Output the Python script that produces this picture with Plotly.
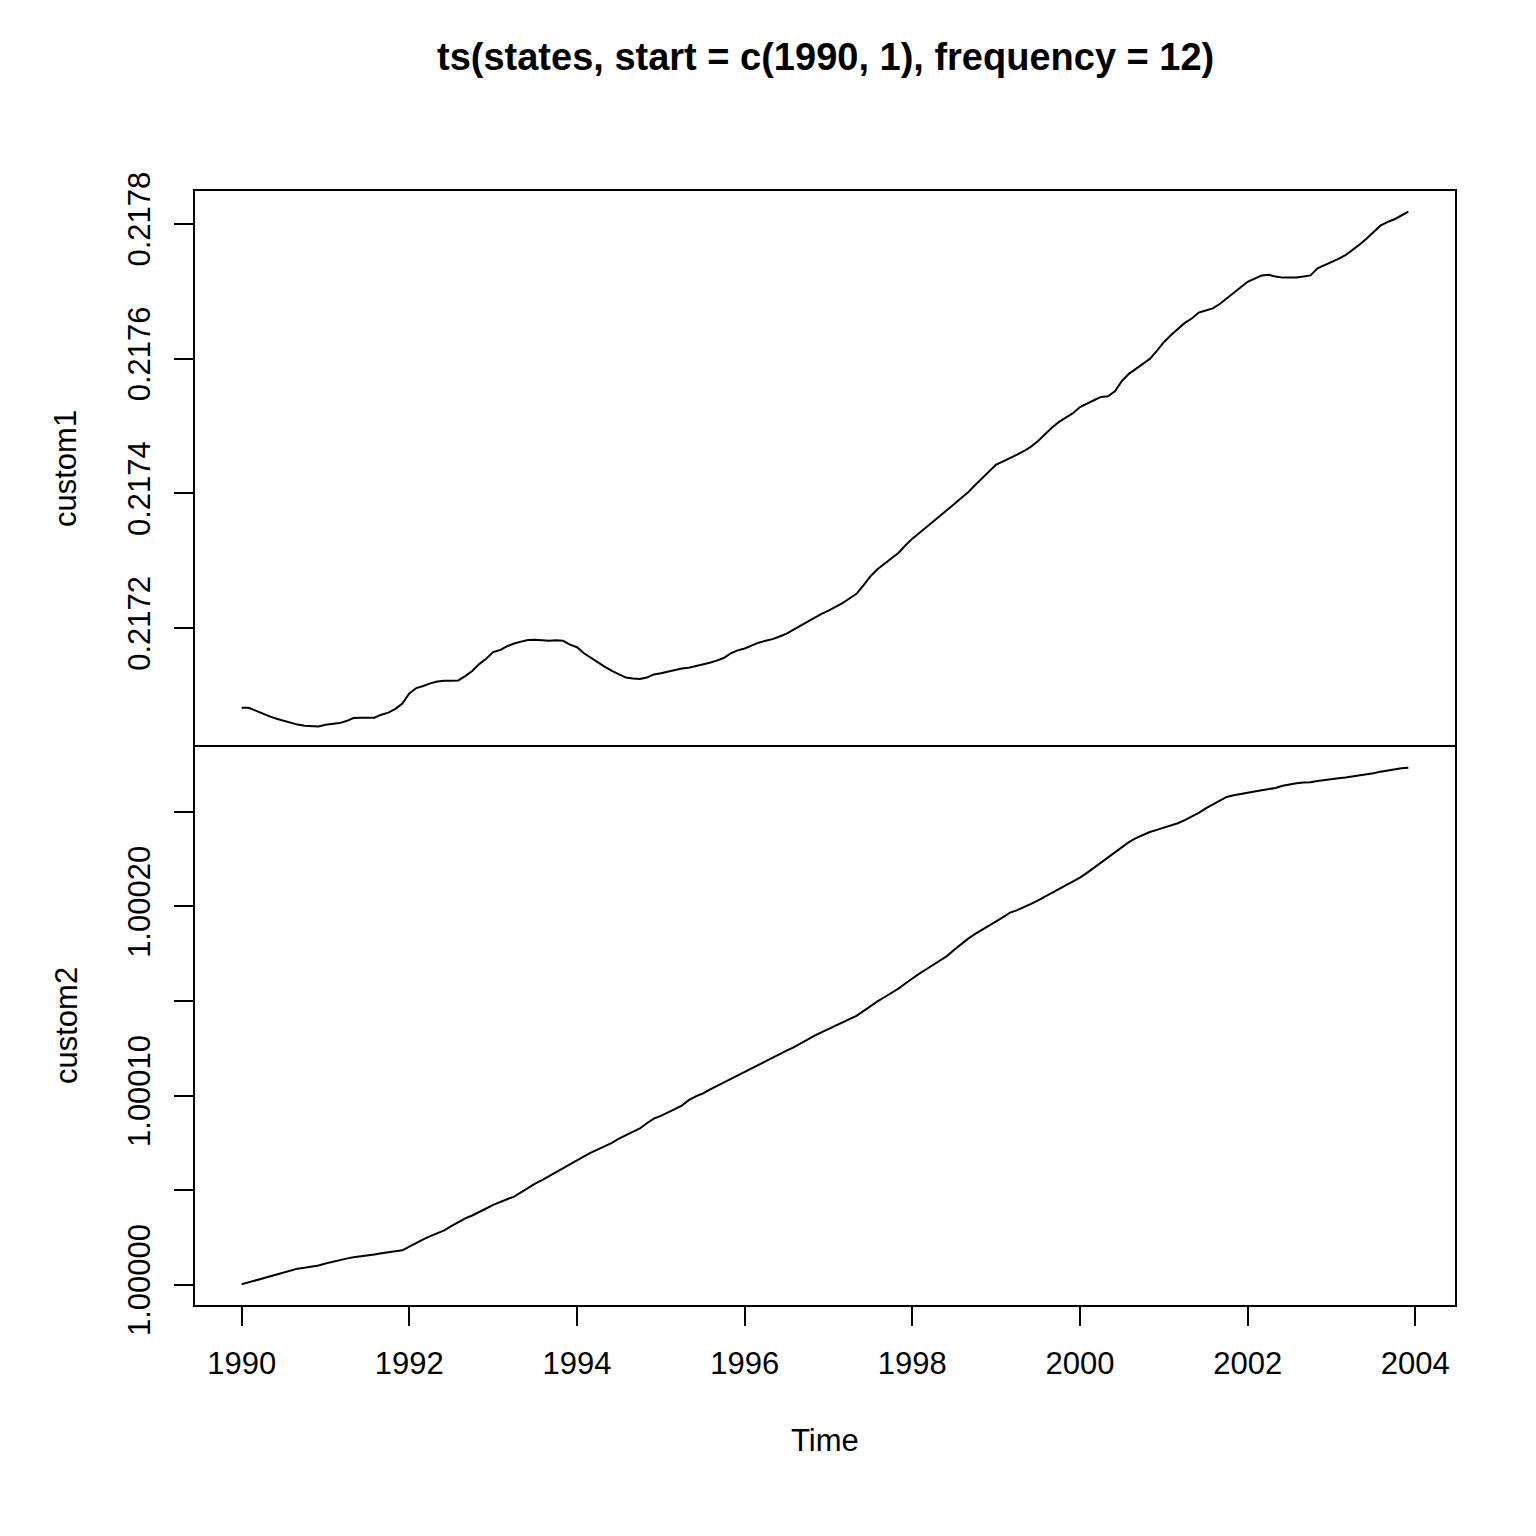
import numpy as np
import plotly.graph_objects as go

# ---- data (monthly, start 1990-01, frequency 12) ----
start_year = 1990
frequency = 12

custom1 = [
    0.2170817, 0.2170817, 0.2170775, 0.2170726, 0.2170689, 0.2170653, 0.2170622, 0.2170595, 0.2170567, 0.2170549, 0.2170540, 0.2170540,
    0.2170563, 0.2170578, 0.2170589, 0.2170619, 0.2170664, 0.2170668, 0.2170668, 0.2170668, 0.2170714, 0.2170744, 0.2170800, 0.2170879,
    0.2171030, 0.2171109, 0.2171139, 0.2171179, 0.2171206, 0.2171218, 0.2171218, 0.2171222, 0.2171287, 0.2171362, 0.2171465, 0.2171544,
    0.2171644, 0.2171673, 0.2171730, 0.2171771, 0.2171798, 0.2171822, 0.2171828, 0.2171816, 0.2171811, 0.2171820, 0.2171810, 0.2171754,
    0.2171715, 0.2171626, 0.2171556, 0.2171488, 0.2171425, 0.2171365, 0.2171313, 0.2171265, 0.2171250, 0.2171243, 0.2171265, 0.2171311,
    0.2171329, 0.2171354, 0.2171385, 0.2171399, 0.2171412, 0.2171433, 0.2171458, 0.2171486, 0.2171516, 0.2171555, 0.2171623, 0.2171669,
    0.2171697, 0.2171743, 0.2171783, 0.2171811, 0.2171835, 0.2171875, 0.2171917, 0.2171976, 0.2172034, 0.2172099, 0.2172160, 0.2172209,
    0.2172258, 0.2172312, 0.2172371, 0.2172438, 0.2172508, 0.2172633, 0.2172768, 0.2172872, 0.2172950, 0.2173025, 0.2173114, 0.2173225,
    0.2173327, 0.2173411, 0.2173495, 0.2173583, 0.2173669, 0.2173758, 0.2173840, 0.2173930, 0.2174015, 0.2174122, 0.2174218, 0.2174319,
    0.2174425, 0.2174475, 0.2174520, 0.2174575, 0.2174628, 0.2174693, 0.2174777, 0.2174881, 0.2174976, 0.2175059, 0.2175124, 0.2175189,
    0.2175280, 0.2175335, 0.2175381, 0.2175430, 0.2175440, 0.2175513, 0.2175667, 0.2175773, 0.2175846, 0.2175918, 0.2175994, 0.2176113,
    0.2176242, 0.2176346, 0.2176438, 0.2176529, 0.2176594, 0.2176682, 0.2176714, 0.2176745, 0.2176809, 0.2176894, 0.2176983, 0.2177063,
    0.2177139, 0.2177186, 0.2177232, 0.2177244, 0.2177216, 0.2177201, 0.2177201, 0.2177204, 0.2177219, 0.2177234, 0.2177338, 0.2177384,
    0.2177425, 0.2177479, 0.2177534, 0.2177610, 0.2177690, 0.2177779, 0.2177875, 0.2177972, 0.2178025, 0.2178067, 0.2178123, 0.2178181,
]

custom2 = [
    1.0000002, 1.0000012, 1.0000022, 1.0000033, 1.0000044, 1.0000054, 1.0000065, 1.0000076, 1.0000085, 1.0000090, 1.0000096, 1.0000102,
    1.0000112, 1.0000122, 1.0000130, 1.0000138, 1.0000145, 1.0000149, 1.0000154, 1.0000160, 1.0000166, 1.0000171, 1.0000177, 1.0000182,
    1.0000202, 1.0000222, 1.0000240, 1.0000257, 1.0000273, 1.0000287, 1.0000310, 1.0000330, 1.0000351, 1.0000366, 1.0000383, 1.0000403,
    1.0000422, 1.0000439, 1.0000452, 1.0000466, 1.0000489, 1.0000511, 1.0000534, 1.0000553, 1.0000574, 1.0000596, 1.0000619, 1.0000639,
    1.0000661, 1.0000679, 1.0000698, 1.0000715, 1.0000734, 1.0000750, 1.0000773, 1.0000790, 1.0000810, 1.0000826, 1.0000854, 1.0000878,
    1.0000893, 1.0000909, 1.0000928, 1.0000947, 1.0000976, 1.0000996, 1.0001011, 1.0001032, 1.0001051, 1.0001069, 1.0001089, 1.0001107,
    1.0001127, 1.0001146, 1.0001166, 1.0001184, 1.0001202, 1.0001220, 1.0001238, 1.0001255, 1.0001274, 1.0001296, 1.0001317, 1.0001334,
    1.0001352, 1.0001368, 1.0001384, 1.0001402, 1.0001422, 1.0001447, 1.0001474, 1.0001498, 1.0001520, 1.0001542, 1.0001566, 1.0001593,
    1.0001621, 1.0001645, 1.0001668, 1.0001692, 1.0001715, 1.0001739, 1.0001771, 1.0001803, 1.0001830, 1.0001855, 1.0001876, 1.0001897,
    1.0001921, 1.0001944, 1.0001968, 1.0001981, 1.0001996, 1.0002014, 1.0002032, 1.0002052, 1.0002071, 1.0002090, 1.0002111, 1.0002132,
    1.0002153, 1.0002178, 1.0002205, 1.0002232, 1.0002259, 1.0002287, 1.0002314, 1.0002340, 1.0002362, 1.0002379, 1.0002394, 1.0002405,
    1.0002416, 1.0002429, 1.0002440, 1.0002457, 1.0002476, 1.0002495, 1.0002519, 1.0002539, 1.0002559, 1.0002579, 1.0002588, 1.0002593,
    1.0002601, 1.0002608, 1.0002613, 1.0002619, 1.0002627, 1.0002638, 1.0002646, 1.0002652, 1.0002656, 1.0002657, 1.0002663, 1.0002669,
    1.0002672, 1.0002678, 1.0002682, 1.0002687, 1.0002692, 1.0002697, 1.0002704, 1.0002713, 1.0002720, 1.0002728, 1.0002731, 1.0002734,
]

x_tick_vals = [1990, 1992, 1994, 1996, 1998, 2000, 2002, 2004]
y1_tick_vals = [0.2172, 0.2174, 0.2176, 0.2178]
y1_tick_text = ["0.2172", "0.2174", "0.2176", "0.2178"]
y2_tick_vals = [1.00000, 1.00005, 1.00010, 1.00015, 1.00020, 1.00025]
y2_tick_text = ["1.00000", "", "1.00010", "", "1.00020", ""]

title_text = "ts(states, start = c(1990, 1), frequency = 12)"

# ---- build ----
time = start_year + np.arange(len(custom1)) / frequency


def padded(lo, hi, frac=0.04):
    d = (hi - lo) * frac
    return [lo - d, hi + d]


xr = padded(float(time.min()), float(time.max()))
y1r = padded(min(custom1), max(custom1))
y2r = padded(min(custom2), max(custom2))

FONT = "Arial, Liberation Sans, sans-serif"
W, H = 1536, 1536
OFF = 8  # page body margin offset
PL, PR, PT, PB = 195, 1455, 191, 1305  # target plot box in page pixels
L, T = PL - OFF, PT - OFF
R, B = W - (PR - OFF), H - (PB - OFF)
split = (PB - 747) / (PB - PT)

fig = go.Figure()
fig.add_trace(go.Scatter(x=time, y=custom1, mode="lines", xaxis="x2", yaxis="y2",
                         line=dict(color="black", width=2), showlegend=False))
fig.add_trace(go.Scatter(x=time, y=custom2, mode="lines", xaxis="x", yaxis="y",
                         line=dict(color="black", width=2), showlegend=False))

axis_common = dict(showgrid=False, zeroline=False, showline=True, linecolor="black",
                   linewidth=2, tickcolor="black", tickwidth=2, ticklen=19,
                   tickfont=dict(family=FONT, size=31, color="black"))

fig.update_layout(
    width=W, height=H,
    margin=dict(l=L, r=R, t=T, b=B, pad=0),
    paper_bgcolor="white", plot_bgcolor="white",
    xaxis=dict(domain=[0, 1], range=xr, anchor="y", ticks="outside", mirror=True,
               tickmode="array", tickvals=x_tick_vals, ticklabelstandoff=11, **axis_common),
    yaxis=dict(domain=[0, split], range=y2r, anchor="x", ticks="outside", mirror=True,
               tickmode="array", tickvals=y2_tick_vals, ticktext=y2_tick_text,
               tickangle=-90, ticklabelstandoff=12, **axis_common),
    xaxis2=dict(domain=[0, 1], range=xr, anchor="y2", matches="x", ticks="", side="top",
                mirror=False, showticklabels=False, **axis_common),
    yaxis2=dict(domain=[split, 1], range=y1r, anchor="x2", ticks="outside", mirror=True,
                tickmode="array", tickvals=y1_tick_vals, ticktext=y1_tick_text,
                tickangle=-90, ticklabelstandoff=12, **axis_common),
)


def px_x(px):
    return (px - PL) / (PR - PL)


def px_y(py):
    return (PB - py) / (PB - PT)


ann_font = dict(family=FONT, size=31, color="black")
fig.add_annotation(text="<b>" + title_text + "</b>", xref="paper", yref="paper",
                   x=0.5, y=px_y(57), xanchor="center", yanchor="middle",
                   showarrow=False, font=dict(family=FONT, size=38, color="black"))
fig.add_annotation(text="Time", xref="paper", yref="paper", x=0.5, y=px_y(1440),
                   xanchor="center", yanchor="middle", showarrow=False, font=ann_font)
fig.add_annotation(text="custom1", xref="paper", yref="paper", x=px_x(66), y=px_y(469),
                   xanchor="center", yanchor="middle", textangle=-90, showarrow=False, font=ann_font)
fig.add_annotation(text="custom2", xref="paper", yref="paper", x=px_x(66), y=px_y(1026),
                   xanchor="center", yanchor="middle", textangle=-90, showarrow=False, font=ann_font)

fig.write_html("out.html")
